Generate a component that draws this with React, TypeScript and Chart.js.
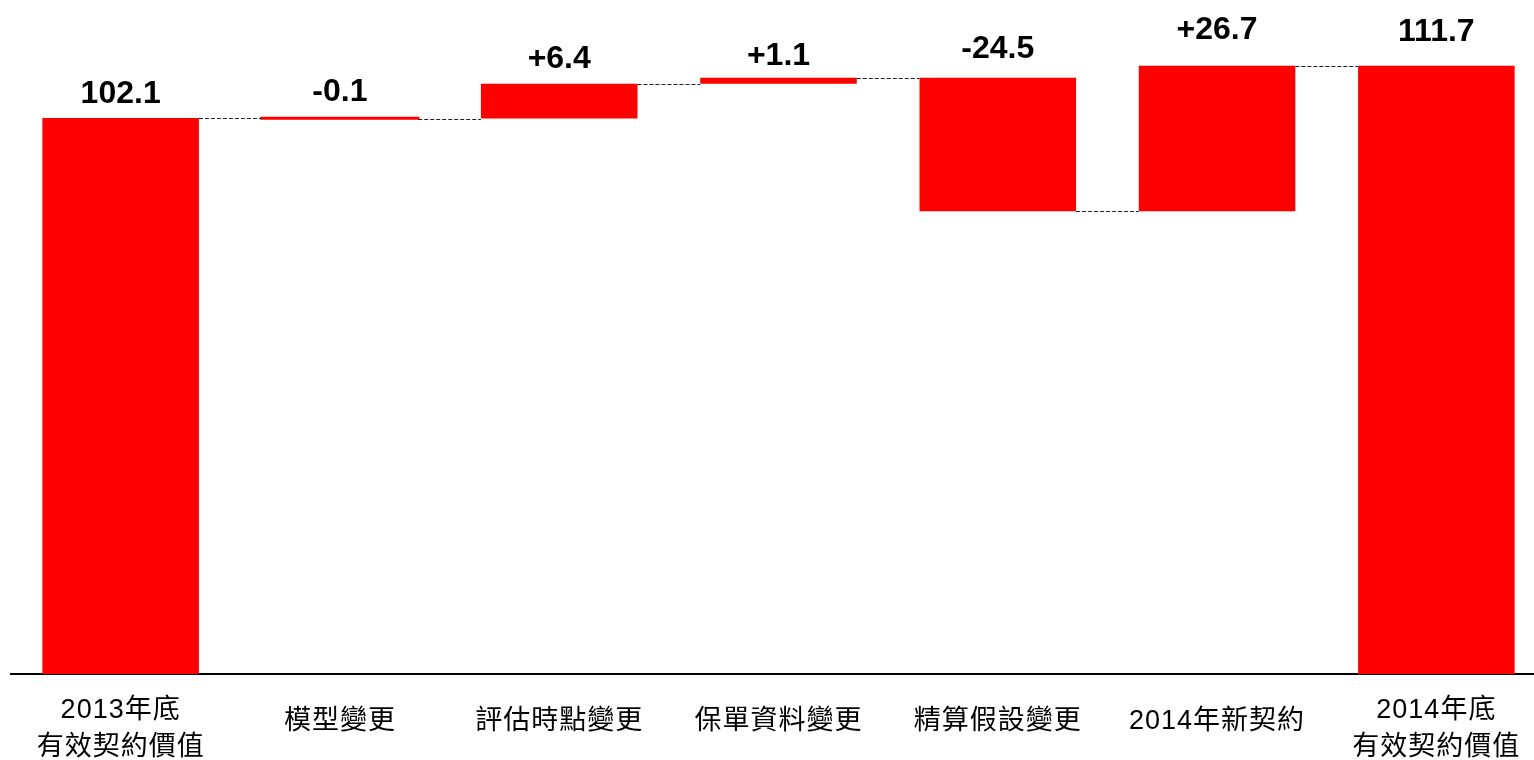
import React, { useEffect, useRef } from "react";
import { Chart, registerables } from "chart.js";

Chart.register(...registerables);

// ---- data ----
const categories: string[][] = [
  ["2013年底", "有效契約價值"],
  ["模型變更"],
  ["評估時點變更"],
  ["保單資料變更"],
  ["精算假設變更"],
  ["2014年新契約"],
  ["2014年底", "有效契約價值"],
];
const startValue = 102.1;
const changes = [-0.1, 6.4, 1.1, -24.5, 26.7];
const endValue = 111.7;
const valueLabels = ["102.1", "-0.1", "+6.4", "+1.1", "-24.5", "+26.7", "111.7"];

// floating bars built from the values above
function buildFloating(): [number, number][] {
  const out: [number, number][] = [[0, startValue]];
  let level = startValue;
  for (const c of changes) {
    const next = Math.round((level + c) * 10) / 10;
    out.push([level, next]);
    level = next;
  }
  out.push([0, endValue]);
  return out;
}
const floating = buildFloating();

// label lift above each bar's top (px)
const labelGaps = [15, 17, 16, 13, 20, 27, 25];

const decorPlugin = {
  id: "waterfallDecor",
  afterDatasetsDraw(chart: any) {
    const ctx: CanvasRenderingContext2D = chart.ctx;
    const meta = chart.getDatasetMeta(0);
    const yScale = chart.scales.y;
    const xScale = chart.scales.x;
    ctx.save();
    // dashed connectors
    ctx.strokeStyle = "#222";
    ctx.lineWidth = 1;
    ctx.setLineDash([4, 2]);
    for (let i = 0; i < meta.data.length - 1; i++) {
      const a = meta.data[i];
      const b = meta.data[i + 1];
      const level = floating[i][1];
      const py = Math.round(yScale.getPixelForValue(level)) + 0.5;
      ctx.beginPath();
      ctx.moveTo(a.x + a.width / 2, py);
      ctx.lineTo(b.x - b.width / 2, py);
      ctx.stroke();
    }
    ctx.setLineDash([]);

    // value labels
    ctx.fillStyle = "#000";
    ctx.font = 'bold 32px Arial, "Liberation Sans", sans-serif';
    ctx.textAlign = "center";
    ctx.textBaseline = "alphabetic";
    meta.data.forEach((bar: any, i: number) => {
      const top = Math.min(bar.y, bar.base);
      ctx.fillText(valueLabels[i], bar.x, top - labelGaps[i]);
    });

    // category labels
    ctx.font = '27px Arial, "Liberation Sans", "Noto Sans CJK TC", sans-serif';
    (ctx as any).letterSpacing = "1px";
    categories.forEach((lines, i) => {
      const cx = xScale.getPixelForValue(i);
      if (lines.length === 1) {
        ctx.fillText(lines[0], cx, 729);
      } else {
        ctx.fillText(lines[0], cx, 718);
        ctx.fillText(lines[1], cx, 755);
      }
    });
    ctx.restore();
  },
};

export default function App() {
  const canvasRef = useRef<HTMLCanvasElement | null>(null);

  useEffect(() => {
    if (!canvasRef.current) return;
    const chart = new Chart(canvasRef.current, {
      type: "bar",
      data: {
        labels: categories,
        datasets: [
          {
            data: floating as any,
            backgroundColor: "#FF0000",
            borderWidth: 0,
            categoryPercentage: 1,
            barPercentage: 0.714,
            inflateAmount: (c: any) => (c.dataIndex === 1 ? 1.3 : "auto"),
          } as any,
        ],
      },
      options: {
        animation: false,
        responsive: false,
        devicePixelRatio: 1,
        layout: { padding: { left: 11, right: 0, top: 0, bottom: 0 } },
        plugins: {
          legend: { display: false },
          tooltip: { enabled: false },
        },
        scales: {
          x: {
            grid: { display: false },
            border: { display: true, color: "#000", width: 2 },
            ticks: { display: false },
            afterFit: (scale: any) => {
              scale.height = 86;
            },
          },
          y: {
            display: false,
            min: 0,
            max: 123.77,
          },
        },
      },
      plugins: [decorPlugin],
    });
    return () => chart.destroy();
  }, []);

  return (
    <div
      style={{
        position: "absolute",
        left: 0,
        top: 0,
        width: 1534,
        height: 760,
        overflow: "hidden",
        background: "#fff",
      }}
    >
      <canvas ref={canvasRef} width={1546} height={760} style={{ display: "block" }} />
    </div>
  );
}
